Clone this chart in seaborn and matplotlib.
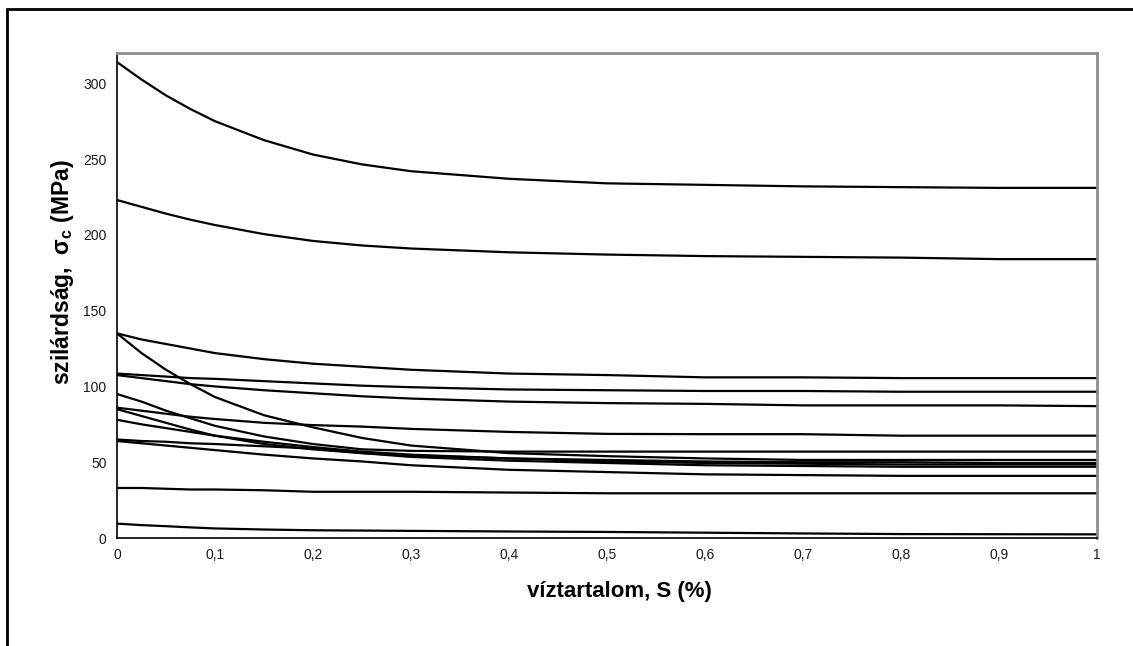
import numpy as np
import pandas as pd
import seaborn as sns
import matplotlib.pyplot as plt
from matplotlib.patches import Rectangle

# víztartalom (S) pontok, ahol a görbéket leolvastam
S = [0, 0.025, 0.05, 0.075, 0.1, 0.15, 0.2, 0.25, 0.3, 0.4, 0.5, 0.6, 0.7, 0.8, 0.9, 1.0]

# szilárdság görbék (MPa)
g1 = [314, 302.5, 292, 283, 275, 262.5, 253, 246.5, 242, 237, 234, 233, 232, 231.5, 231, 231]
g2 = [223, 218.5, 214, 210, 206.5, 200.5, 196, 193, 191, 188.5, 187, 186, 185.5, 185, 184, 184]
g3 = [135, 131, 128, 125, 122, 118, 115, 113, 111, 108.5, 107.5, 106, 106, 105.5, 105.5, 105.5]
g4 = [135, 122, 111, 101.5, 93, 81, 73, 66, 61, 56, 54, 52.5, 51.5, 51.5, 51.5, 51.5]
g5 = [108.5, 107.5, 106.5, 105.5, 105, 103.5, 102, 100.5, 99.5, 98, 97.5, 97, 97, 96.5, 96.5, 96.5]
g6 = [107.5, 105.5, 103.5, 101.5, 100, 97.5, 95.5, 93.5, 92, 90, 89, 88.5, 87.5, 87.5, 87.5, 87]
g7 = [95, 90, 84, 79, 74, 67, 62, 58.5, 57.5, 57, 57, 57, 57, 57, 57, 57]
g8 = [86, 84, 82, 80, 78.5, 76, 74.5, 73.5, 72, 70, 68.7, 68.5, 68.5, 67.5, 67.5, 67.5]
g9 = [85, 80.5, 76, 71.5, 67.5, 62, 58.5, 56, 54.5, 52.5, 51.5, 50.5, 50, 50, 49.5, 49.5]
g10 = [78, 75, 72.5, 70, 67.5, 63.5, 60, 57, 55, 52.5, 50.5, 49.5, 49, 48.5, 48.5, 48.5]
g11 = [65, 64, 63.5, 62.5, 62, 60.5, 59, 56, 53.5, 51, 49.5, 48, 47.5, 47, 47, 47]
g12 = [64, 62.5, 61, 59.5, 58, 55, 52.5, 50.5, 48, 45, 43.5, 42, 41.5, 41, 41, 41]
g13 = [33, 33, 32.5, 32, 32, 31.5, 30.5, 30.5, 30.5, 30, 29.5, 29.5, 29.5, 29.5, 29.5, 29.5]
g14 = [9.5, 8.5, 7.8, 7, 6.3, 5.6, 5.1, 4.9, 4.7, 4.3, 4, 3.5, 3, 2.6, 2.5, 2.4]

gorbek = [g1, g2, g3, g4, g5, g6, g7, g8, g9, g10, g11, g12, g13, g14]

x_ticks = [0, 0.1, 0.2, 0.3, 0.4, 0.5, 0.6, 0.7, 0.8, 0.9, 1.0]
x_tick_labels = ["0", "0,1", "0,2", "0,3", "0,4", "0,5", "0,6", "0,7", "0,8", "0,9", "1"]
y_ticks = [0, 50, 100, 150, 200, 250, 300]

# hosszú formátumú táblázat a seabornnak
sorok = []
for i, g in enumerate(gorbek):
    for s, v in zip(S, g):
        sorok.append({"gorbe": i, "S": s, "szilardsag": v})
df = pd.DataFrame(sorok)

sns.set_theme(style="white")
plt.rcParams["font.family"] = ["Liberation Sans", "DejaVu Sans"]
plt.rcParams["mathtext.fontset"] = "custom"
plt.rcParams["mathtext.rm"] = "Liberation Sans:bold"

fig = plt.figure(figsize=(11.33, 6.46), dpi=100)
ax = fig.add_axes([117 / 1133, 1 - 538 / 646, 980 / 1133, 485 / 646])

sns.lineplot(data=df, x="S", y="szilardsag", hue="gorbe",
             palette=["black"] * len(gorbek), legend=False,
             linewidth=1.6, ax=ax)

ax.set_xlim(0, 1)
ax.set_ylim(0, 320)
ax.set_xticks(x_ticks)
ax.set_xticklabels(x_tick_labels)
ax.set_yticks(y_ticks)
ax.tick_params(axis="both", direction="out", length=4, width=1,
               colors="black", labelsize=10, labelcolor="#1a1a1a")

for side in ["left", "bottom"]:
    ax.spines[side].set_color("black")
    ax.spines[side].set_linewidth(1.2)
for side in ["top", "right"]:
    ax.spines[side].set_color("#8c8c8c")
    ax.spines[side].set_linewidth(2)

ax.set_xlabel("víztartalom, S (%)", fontsize=16, fontweight="bold", color="black")
ax.set_ylabel(r"szilárdság,  σ$_\mathrm{c}$ (MPa)", fontsize=16.5,
              fontweight="bold", color="black")
ax.xaxis.label.set_va("center")
ax.yaxis.label.set_va("center")
ax.xaxis.set_label_coords(0.513, -0.111)
ax.yaxis.set_label_coords(-0.056, 0.548)

# külső keret
fig.patches.append(Rectangle((7 / 1133, -0.05), 1.1, 1 - 9 / 646 + 0.05,
                             transform=fig.transFigure, fill=False,
                             edgecolor="black", linewidth=2, clip_on=False))

fig.savefig("out.png", dpi=100)
